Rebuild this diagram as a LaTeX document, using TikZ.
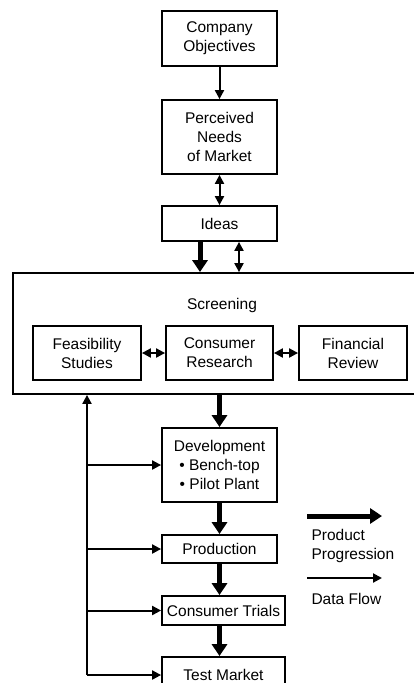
\documentclass[tikz,border=0pt]{standalone}
\usepackage{fontspec}
\setmainfont{Liberation Sans}
\usetikzlibrary{arrows.meta}
\tikzset{
  box/.style={draw, line width=1.8pt, align=center, inner sep=2pt},
  prog/.style={line width=5pt, -{Triangle[length=12pt,width=15pt]}},
  flow/.style={line width=2pt, -{Triangle[length=9pt,width=9pt]}},
  dflow/.style={line width=2pt, {Triangle[length=9pt,width=9pt]}-{Triangle[length=9pt,width=9pt]}}
}
\begin{document}
\begin{tikzpicture}[x=1pt, y=-1pt, font=\fontsize{15.5}{19}\selectfont]
\clip (0,0) rectangle (414,683);
\fill[white] (0,0) rectangle (414,683);
% main column
\node[box, minimum width=115, minimum height=55] (co) at (219.5,38.5) {Company\\Objectives};
\node[box, minimum width=115, minimum height=74] (pn) at (219.5,137) {Perceived\\Needs\\of Market};
\node[box, minimum width=115, minimum height=35] (ideas) at (219.5,223.5) {Ideas};
% screening
\node[box, minimum width=417, minimum height=121] (scr) at (221.5,333.5) {};
\node (scrlabel) at (222,305) {Screening};
\node[box, minimum width=108, minimum height=54] (feas) at (87,353) {Feasibility\\Studies};
\node[box, minimum width=107, minimum height=54] (cres) at (219.5,353) {Consumer\\Research};
\node[box, minimum width=108, minimum height=54] (fin) at (353,353) {Financial\\Review};
% development chain
\node[box, minimum width=115, minimum height=74] (dev) at (219.5,465) {Development\\\textbullet\ Bench-top\\\textbullet\ Pilot Plant};
\node[box, minimum width=115, minimum height=28] (prod) at (219.5,549) {Production};
\node[box, minimum width=123, minimum height=29, inner sep=0pt] (ctri) at (223.5,610.5) {Consumer Trials};
\node[box, minimum width=123, minimum height=36] (tm) at (223.5,675) {Test Market};

\draw[flow] (co) -- (pn);
\draw[dflow] (pn) -- (ideas);
\draw[prog] ([xshift=-19.5]ideas.south) -- ([xshift=-19.5]ideas.south |- scr.north);
\draw[dflow] ([xshift=19.5]ideas.south) -- ([xshift=19.5]ideas.south |- scr.north);
\draw[dflow] (feas) -- (cres);
\draw[dflow] (cres) -- (fin);
\draw[prog] (scr.south -| dev.north) -- (dev.north);
\draw[prog] (dev) -- (prod);
\draw[prog] (prod.south) -- (prod.south |- ctri.north);
\draw[prog] (prod.south |- ctri.south) -- (prod.south |- tm.north);

% data flow back to screening
\coordinate (fb) at (87,0);
\draw[flow] (fb |- tm.west) -- (fb |- scr.south);
\foreach \n in {dev,prod,ctri,tm}
  \draw[flow] (fb |- \n.west) -- (\n.west);

% legend
\coordinate (pp1) at (307,516);
\coordinate (pp2) at (382,516);
\coordinate (df1) at (307,578);
\coordinate (df2) at (382,578);
\draw[prog] (pp1) -- (pp2);
\node[anchor=west, align=left] (pplabel) at (308,546) {Product\\Progression};
\draw[flow] (df1) -- (df2);
\node[anchor=west] (dflabel) at (308,599) {Data Flow};
\end{tikzpicture}
\end{document}
